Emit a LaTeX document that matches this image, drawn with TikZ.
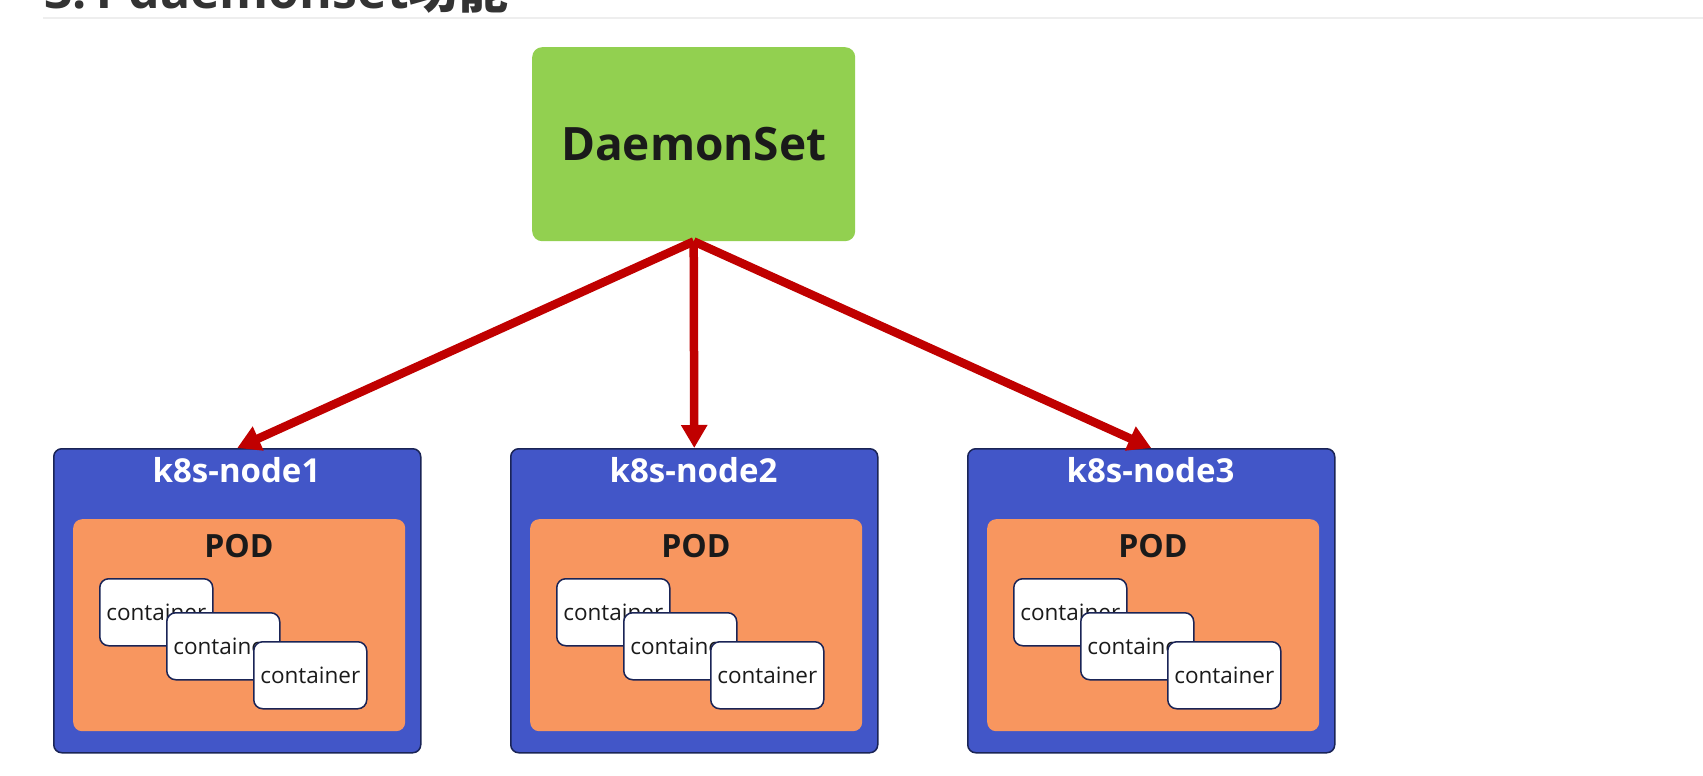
\documentclass[tikz,border=0pt]{standalone}
\usepackage{fontspec}
\setmainfont{Open Sans}
\newfontfamily\cjk{Noto Sans CJK SC}
\usetikzlibrary{arrows.meta}
\definecolor{dsgreen}{HTML}{92D050}
\definecolor{nodeblue}{HTML}{4256C8}
\definecolor{navy}{HTML}{1A2456}
\definecolor{podorange}{HTML}{F8965F}
\definecolor{arrowred}{HTML}{C00000}
\definecolor{darktext}{HTML}{1A1A1A}
\definecolor{hdrgray}{HTML}{333333}
\definecolor{hdrline}{HTML}{EEEEEE}
\tikzset{
  dsbox/.style={rectangle, fill=dsgreen, rounded corners=10pt, minimum width=323pt, minimum height=194pt, inner sep=0pt, text=darktext, font=\fontsize{46}{50}\selectfont\bfseries},
  knode/.style={rectangle, fill=nodeblue, draw=navy, line width=1.5pt, rounded corners=8pt, minimum width=367pt, minimum height=304pt, inner sep=0pt},
  knodelabel/.style={inner sep=0pt, text=white, font=\fontsize{33}{36}\selectfont\bfseries},
  podbox/.style={rectangle, fill=podorange, rounded corners=9pt, minimum width=332pt, minimum height=212pt, inner sep=0pt},
  podlabel/.style={inner sep=0pt, text=darktext, font=\fontsize{32}{36}\selectfont\bfseries},
  contbox/.style={rectangle, fill=white, draw=navy, line width=1.5pt, rounded corners=9pt, minimum width=113pt, minimum height=67pt, inner sep=0pt, text=darktext, font=\fontsize{22.5}{26}\selectfont},
  arr/.style={draw=arrowred, line width=8.5pt, -{Triangle[length=23pt,width=25pt]}},
}
\begin{document}
\begin{tikzpicture}[x=1pt,y=-1pt]
\useasboundingbox (0,0) rectangle (1703,776);
\clip (0,0) rectangle (1703,776);
\fill[white] (0,0) rectangle (1703,776);
% cropped heading
\node[anchor=base west, inner sep=0pt, text=hdrgray, font=\fontsize{50}{54}\selectfont\bfseries] (hdr) at (44,9) {3.1 daemonset\cjk 功能};
\draw[hdrline, line width=2pt] (43,18) -- (1703,18);
% DaemonSet
\node[dsbox, anchor=north west] (ds) at (532,47) {DaemonSet};
% k8s nodes
\foreach \i/\x in {1/53,2/510,3/967}{
  \node[knode, anchor=north west] (n\i) at (\x,448) {};
  \node[knodelabel, anchor=base] (n\i label) at (\x+183.5,482) {k8s-node\i};
  \node[podbox, anchor=north west] (p\i) at (\x+20,519) {};
  \node[podlabel, anchor=base] (p\i label) at (\x+186,557) {POD};
  \node[contbox, anchor=north west] (c\i a) at (\x+46,578) {\raisebox{-1.5pt}{container}};
  \node[contbox, anchor=north west] (c\i b) at (\x+113,612) {\raisebox{-1.5pt}{container}};
  \node[contbox, anchor=north west] (c\i c) at (\x+200,641) {\raisebox{-1.5pt}{container}};
}
% arrows
\draw[arr] (ds.south) -- (n1.north);
\draw[arr] (ds.south) -- (n2.north);
\draw[arr] (ds.south) -- (n3.north);
\end{tikzpicture}
\end{document}
